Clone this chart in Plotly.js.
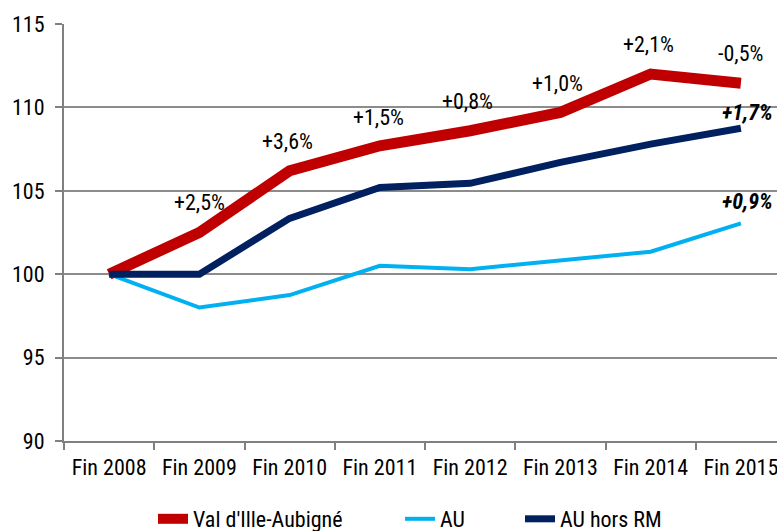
<!DOCTYPE html>
<html><head><meta charset="utf-8">
<script src="https://cdn.plot.ly/plotly-3.0.1.min.js"></script>
<style>html,body{margin:0;padding:0;overflow:hidden;background:#fff;width:777px;height:531px}</style>
</head><body><div id="chart" style="width:800px;height:531px"></div>
<script>
const categories = ["Fin 2008","Fin 2009","Fin 2010","Fin 2011","Fin 2012","Fin 2013","Fin 2014","Fin 2015"];
const valDIlle = [100, 102.5, 106.2, 107.7, 108.6, 109.7, 112.0, 111.45];
const au = [100, 98.0, 98.75, 100.5, 100.3, 100.85, 101.35, 103.05];
const auHorsRM = [100, 100, 103.35, 105.2, 105.45, 106.7, 107.8, 108.75];
const redLabels = ["+2,5%","+3,6%","+1,5%","+0,8%","+1,0%","+2,1%","-0,5%"];
const auHorsLabel = "+1,7%";
const auLabel = "+0,9%";

const font = "'Roboto Condensed','Liberation Sans Narrow','Arial Narrow',sans-serif";

const traces = [
  {x: categories, y: valDIlle, name: "Val d'Ille-Aubigné", mode: "lines", line: {color: "#C00000", width: 11}, legend: "legend"},
  {x: categories, y: au, name: "AU", mode: "lines", line: {color: "#00B0F0", width: 4}, legend: "legend2"},
  {x: categories, y: auHorsRM, name: "AU hors RM", mode: "lines", line: {color: "#002060", width: 7}, legend: "legend3"}
];

const redOffsets = [[0,1.8],[-0.02,1.75],[-0.02,1.7],[-0.03,1.75],[-0.03,1.75],[-0.02,1.8],[0,1.8]];
const annotations = redLabels.map((t, i) => ({
  x: i + 1 + redOffsets[i][0], y: valDIlle[i + 1] + redOffsets[i][1],
  xref: "x", yref: "y", text: t, showarrow: false,
  font: {family: font, size: 22, color: "#000"}
}));
annotations.push({x: 7.07, y: auHorsRM[7] + 0.95, xref: "x", yref: "y", text: "<b><i>" + auHorsLabel + "</i></b>", showarrow: false, font: {family: font, size: 22, color: "#000"}});
annotations.push({x: 7.07, y: au[7] + 1.3, xref: "x", yref: "y", text: "<b><i>" + auLabel + "</i></b>", showarrow: false, font: {family: font, size: 22, color: "#000"}});

function leg(px) {
  return {orientation: "h", x: px / 800, xref: "container", xanchor: "left", y: 12 / 531, yref: "container", yanchor: "middle",
    font: {family: font, size: 22, color: "#000"}, bgcolor: "rgba(0,0,0,0)"};
}

const layout = {
  width: 800, height: 531,
  margin: {l: 64, r: 14, t: 24, b: 90, autoexpand: false},
  paper_bgcolor: "#fff", plot_bgcolor: "#fff",
  font: {family: font, size: 22, color: "#000"},
  showlegend: true,
  legend: leg(153),
  legend2: leg(400),
  legend3: leg(520),
  xaxis: {type: "category", range: [-0.5, 7.5], showgrid: false, showline: true, linecolor: "#808080", linewidth: 2,
    ticks: "outside", tickson: "boundaries", ticklen: 7, tickcolor: "#808080", tickwidth: 2, zeroline: false, ticklabelstandoff: 6},
  yaxis: {range: [90, 115], dtick: 5, showgrid: true, gridcolor: "#8c8c8c", gridwidth: 2, showline: true, linecolor: "#808080", linewidth: 2,
    ticks: "outside", ticklen: 7, tickcolor: "#808080", tickwidth: 2, zeroline: false, ticklabelstandoff: 6},
  annotations: annotations
};
Plotly.newPlot("chart", traces, layout, {displayModeBar: false, staticPlot: true});
</script></body></html>
